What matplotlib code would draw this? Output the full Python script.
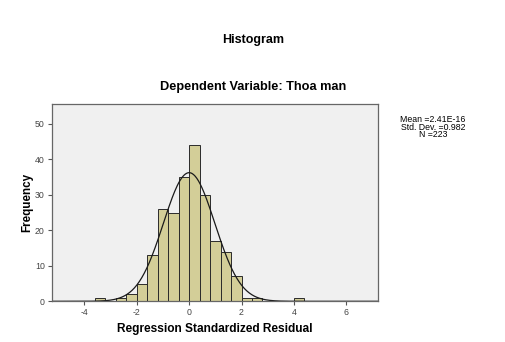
import numpy as np
import matplotlib.pyplot as plt

plt.rcParams['font.family'] = ['Liberation Sans', 'DejaVu Sans']
plt.rcParams['axes.unicode_minus'] = False

# histogram bins (left edges) and counts
bin_left = [-3.6, -2.8, -2.4, -2.0, -1.6, -1.2, -0.8, -0.4, 0.0, 0.4, 0.8, 1.2, 1.6, 2.0, 2.4, 4.0]
counts = [1, 1, 2, 5, 13, 26, 25, 35, 44, 30, 17, 14, 7, 1, 1, 1]
bin_width = 0.4

mean = 2.41e-16
std = 0.982
n = 223

fig = plt.figure(figsize=(5.06, 3.42), dpi=100)
ax = fig.add_axes([0.102, 0.119, 0.646, 0.576])
ax.set_facecolor('#f0f0f0')

ax.bar(bin_left, counts, width=bin_width, align='edge',
       color='#d3ce98', edgecolor='#2b2b2b', linewidth=0.7)

# normal curve
xs = np.linspace(-5.25, 7.25, 400)
ys = n * bin_width * np.exp(-0.5 * ((xs - mean) / std) ** 2) / (std * np.sqrt(2 * np.pi))
ax.plot(xs, ys, color='#1a1a1a', linewidth=0.9)

ax.set_xlim(-5.25, 7.23)
ax.set_ylim(0, 55.5)
ax.set_xticks([-4, -2, 0, 2, 4, 6])
ax.set_yticks([0, 10, 20, 30, 40, 50])
ax.tick_params(direction='out', length=3, width=0.8, colors='#555555',
               labelsize=6.3, labelcolor='#444444', pad=2)
for s in ax.spines.values():
    s.set_color('#666666')
    s.set_linewidth(0.9)

ax.set_xlabel('Regression Standardized Residual', fontsize=8.6, fontweight='bold', labelpad=4)
ax.set_ylabel('Frequency', fontsize=8.4, fontweight='bold', labelpad=1)

fig.text(0.5, 1 - 40 / 342, 'Histogram', ha='center', va='center',
         fontsize=9, fontweight='bold')
fig.text(0.5, 1 - 87 / 342, 'Dependent Variable: Thoa man', ha='center', va='center',
         fontsize=9.2, fontweight='bold')

stats = f'Mean =2.41E-16\nStd. Dev. ={std}\nN ={n}'
fig.text(433 / 506, 1 - 127 / 342, stats, ha='center', va='center',
         fontsize=6.3, linespacing=0.85)

fig.savefig('out.png', dpi=100)
